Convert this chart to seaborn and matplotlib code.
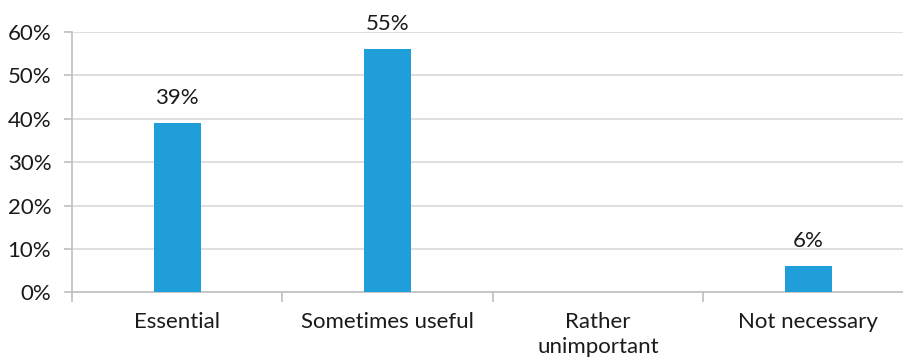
import matplotlib
matplotlib.use("Agg")
import matplotlib.pyplot as plt
import seaborn as sns
import pandas as pd
from matplotlib.ticker import FixedLocator, PercentFormatter

categories = ["Essential", "Sometimes useful", "Rather\nunimportant", "Not necessary"]
values = [39, 56, 0, 6]
value_labels = ["39%", "55%", "", "6%"]

sns.set_theme(style="white")
plt.rcParams['font.family'] = ['Lato', 'DejaVu Sans']

df = pd.DataFrame({"category": categories, "value": values})

fig = plt.figure(figsize=(9.04, 3.62), dpi=100)
ax = fig.add_axes([72/904, (362-292.3)/362, (913.6-72)/904, (292.3-32)/362])

sns.barplot(data=df, x="category", y="value", color="#1F9ED9", saturation=1,
            width=0.224, ax=ax, zorder=3, edgecolor="none")

ax.set_xlim(-0.5, len(categories) - 0.5)
ax.set_ylim(0, 60)
ax.set_yticks(range(0, 61, 10))
ax.yaxis.set_major_formatter(PercentFormatter(decimals=0))
ax.grid(axis="y", color="#D9D9D9", linewidth=1.2, zorder=0)
ax.set_axisbelow(True)

for s in ["top", "right"]:
    ax.spines[s].set_visible(False)
ax.spines["left"].set_color("#BFBFBF")
ax.spines["bottom"].set_color("#BFBFBF")
ax.spines["left"].set_linewidth(1.2)
ax.spines["bottom"].set_linewidth(1.2)

ax.set_xlabel("")
ax.set_ylabel("")
ax.tick_params(axis="x", which="major", length=0, pad=14, labelsize=16, labelcolor="#1a1a1a")
ax.xaxis.set_minor_locator(FixedLocator([i - 0.5 for i in range(len(categories) + 1)]))
ax.tick_params(axis="x", which="minor", length=7, width=1.2, color="#BFBFBF", bottom=True)
ax.tick_params(axis="y", length=6, width=1.2, color="#BFBFBF", left=True, pad=9,
               labelsize=16, labelcolor="#1a1a1a")
for lbl in ax.get_xticklabels():
    lbl.set_verticalalignment("top")
    lbl.set_linespacing(1.3)

for i, (v, t) in enumerate(zip(values, value_labels)):
    if t:
        ax.annotate(t, xy=(i, v), xytext=(0, 18), textcoords="offset points",
                    ha="center", va="center", fontsize=16, color="#1a1a1a")

fig.savefig("out.png", dpi=100)
